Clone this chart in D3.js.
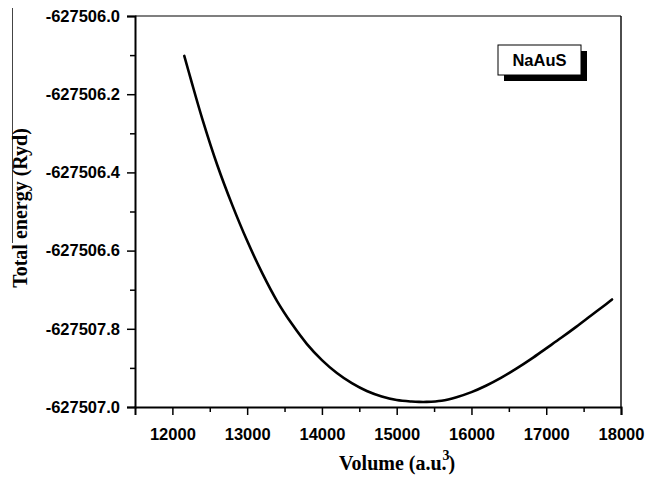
<!DOCTYPE html>
<html>
<head>
<meta charset="utf-8">
<script src="https://cdn.jsdelivr.net/npm/d3@7"></script>
<style>
  html, body { margin: 0; padding: 0; background: #fff; }
  svg { display: block; }
  .tick text { font-family: "Liberation Sans", Arial, sans-serif; font-weight: bold; fill: #000; }
</style>
</head>
<body>
<svg id="chart" width="648" height="480"></svg>
<script>
// Total energy vs. cell volume for NaAuS
const volume = [12159, 12250, 12400, 12600, 12800, 13000, 13200, 13400, 13600, 13800,
                14000, 14200, 14400, 14600, 14800, 15000, 15200, 15300, 15400, 15600,
                15800, 16000, 16200, 16400, 16600, 16800, 17000, 17200, 17400, 17600, 17800, 17880];
const energy = [-627506.102, -627506.164, -627506.263, -627506.381, -627506.483, -627506.575,
                -627506.657, -627506.729, -627506.788, -627506.839, -627506.880, -627506.913,
                -627506.939, -627506.959, -627506.973, -627506.982, -627506.986, -627506.987,
                -627506.987, -627506.984, -627506.975, -627506.962, -627506.945, -627506.925,
                -627506.902, -627506.877, -627506.850, -627506.823, -627506.795, -627506.766,
                -627506.737, -627506.725];

const xTicks = [12000, 13000, 14000, 15000, 16000, 17000, 18000];
const xMinorTicks = [12500, 13500, 14500, 15500, 16500, 17500];
const yTicks = [-627506.0, -627506.2, -627506.4, -627506.6, -627506.8, -627507.0];
const yTickLabels = ["-627506.0", "-627506.2", "-627506.4", "-627506.6", "-627507.8", "-627507.0"];
const yMinorTicks = [-627506.1, -627506.3, -627506.5, -627506.7, -627506.9];
const seriesName = "NaAuS";

const svg = d3.select("#chart");
const plotLeft = 135, plotRight = 621, plotTop = 16, plotBottom = 407;

const x = d3.scaleLinear().domain([11500, 18000]).range([plotLeft, plotRight]);
const y = d3.scaleLinear().domain([-627507.0, -627506.0]).range([plotBottom, plotTop]);

// frame: thin top and right edges
svg.append("line").attr("x1", plotLeft).attr("x2", plotRight).attr("y1", plotTop).attr("y2", plotTop)
  .attr("stroke", "#000").attr("stroke-width", 1.2);
svg.append("line").attr("x1", plotRight).attr("x2", plotRight).attr("y1", plotTop).attr("y2", plotBottom)
  .attr("stroke", "#000").attr("stroke-width", 1.4);

// x axis
const gx = svg.append("g").attr("transform", `translate(0,${plotBottom})`)
  .call(d3.axisBottom(x).tickValues(xTicks).tickFormat(d3.format("d")).tickSize(8).tickPadding(13));
gx.selectAll(".tick text").style("font-size", "16.5px");
gx.selectAll(".tick line").attr("stroke-width", 1.5);
gx.select(".domain").attr("stroke-width", 2);
svg.append("g").attr("transform", `translate(0,${plotBottom})`)
  .call(d3.axisBottom(x).tickValues(xMinorTicks).tickFormat("").tickSize(5))
  .call(g => g.select(".domain").remove())
  .selectAll(".tick line").attr("stroke-width", 1.5);

// y axis
const gy = svg.append("g").attr("transform", `translate(${plotLeft},0)`)
  .call(d3.axisLeft(y).tickValues(yTicks)
    .tickFormat((d, i) => yTickLabels[i]).tickSize(8).tickPadding(7));
gy.selectAll(".tick text").style("font-size", "16.5px");
gy.selectAll(".tick line").attr("stroke-width", 1.5);
gy.select(".domain").attr("stroke-width", 2);
svg.append("g").attr("transform", `translate(${plotLeft},0)`)
  .call(d3.axisLeft(y).tickValues(yMinorTicks).tickFormat("").tickSize(5))
  .call(g => g.select(".domain").remove())
  .selectAll(".tick line").attr("stroke-width", 1.5);

// energy curve
const pts = volume.map((v, i) => [v, energy[i]]);
svg.append("path")
  .datum(pts)
  .attr("fill", "none")
  .attr("stroke", "#000")
  .attr("stroke-width", 2.6)
  .attr("stroke-linecap", "round")
  .attr("d", d3.line().x(d => x(d[0])).y(d => y(d[1])).curve(d3.curveCatmullRom));

// legend box with drop shadow
const lg = svg.append("g").attr("transform", "translate(498,45)");
lg.append("rect").attr("x", 6).attr("y", 6).attr("width", 83).attr("height", 30).attr("fill", "#000");
lg.append("rect").attr("x", 0).attr("y", 0).attr("width", 83).attr("height", 30)
  .attr("fill", "#fff").attr("stroke", "#000").attr("stroke-width", 1);
lg.append("text").attr("x", 41.5).attr("y", 21).attr("text-anchor", "middle")
  .style("font-family", "'Liberation Sans', Arial, sans-serif").style("font-weight", "bold")
  .style("font-size", "16.5px").text(seriesName);

// axis titles
svg.append("line").attr("x1", 12.5).attr("x2", 12.5).attr("y1", 8).attr("y2", 243)
  .attr("stroke", "#444").attr("stroke-width", 1);
svg.append("text")
  .attr("transform", "translate(27,208) rotate(-90)")
  .attr("text-anchor", "middle")
  .style("font-family", "'Liberation Serif', 'Times New Roman', serif").style("font-weight", "bold")
  .style("font-size", "20px")
  .text("Total energy (Ryd)");

const xt = svg.append("text").attr("x", 339).attr("y", 470)
  .style("font-family", "'Liberation Serif', 'Times New Roman', serif").style("font-weight", "bold")
  .style("font-size", "20px");
xt.append("tspan").text("Volume (a.u.");
xt.append("tspan").attr("dx", -4).attr("dy", -10).style("font-size", "14px").text("3");
xt.append("tspan").attr("dx", -1).attr("dy", 10).text(")");
</script>
</body>
</html>
